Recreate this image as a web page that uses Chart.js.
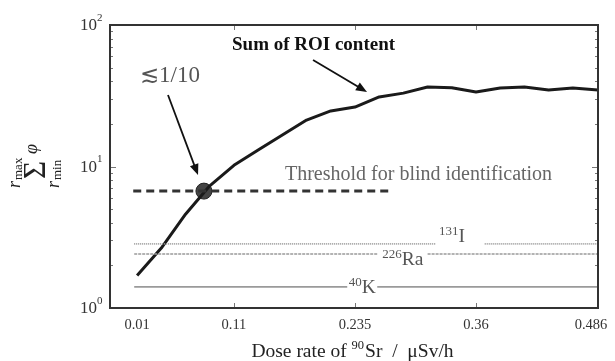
<!DOCTYPE html>
<html>
<head>
<meta charset="utf-8">
<script src="https://cdn.jsdelivr.net/npm/chart.js@4"></script>
<style>
    body { margin: 0; background: #fff; }
    #box { position: relative; width: 615px; height: 361px; }
</style>
</head>
<body>
<div id="box"><canvas id="chart"></canvas></div>
<script>
// dose rate of 90Sr (uSv/h) and the summed ROI content
var doseRate = [0.01, 0.035, 0.06, 0.085, 0.11, 0.135, 0.16, 0.185, 0.21, 0.235,
    0.26, 0.285, 0.31, 0.335, 0.36, 0.385, 0.41, 0.435, 0.46, 0.486];
var roiSum = [1.7, 2.65, 4.6, 7.3, 10.2, 13.1, 16.7, 21.3, 24.7, 26.3,
    31.0, 33.0, 36.5, 36.0, 33.6, 35.9, 36.5, 34.7, 35.9, 34.7];

var xTickValues = [0.01, 0.11, 0.235, 0.36, 0.486];
var xTickLabels = ['0.01', '0.11', '0.235', '0.36', '0.486'];
var yTickValues = [1, 10, 100];
var yTickExps = ['0', '1', '2'];

// threshold for blind identification
var thresholdValue = 6.7;
var thresholdRange = [0.006, 0.271];
var crossPoint = {x: 0.079, y: 6.7};

// background nuclides (mass number, symbol, level, gap where the label sits)
var refMass = ['131', '226', '40'];
var refSymbol = ['I', 'Ra', 'K'];
var refLevel = [2.84, 2.41, 1.41];
var refGapFrom = [0.318, 0.259, 0.227];
var refGapTo = [0.369, 0.310, 0.258];
var refStart = 0.007;
var refEnd = 0.486;

var serif = "'Liberation Serif', 'DejaVu Serif', serif";

function refData(i) {
    return [
        {x: refStart, y: refLevel[i]},
        {x: refGapFrom[i], y: refLevel[i]},
        {x: (refGapFrom[i] + refGapTo[i]) / 2, y: null},
        {x: refGapTo[i], y: refLevel[i]},
        {x: refEnd, y: refLevel[i]}
    ];
}

function arrow(ctx, x1, y1, x2, y2) {
    var a = Math.atan2(y2 - y1, x2 - x1);
    var L = 11, W = 4.5;
    ctx.beginPath();
    ctx.moveTo(x1, y1);
    ctx.lineTo(x2 - Math.cos(a) * L * 0.8, y2 - Math.sin(a) * L * 0.8);
    ctx.stroke();
    ctx.beginPath();
    ctx.moveTo(x2, y2);
    ctx.lineTo(x2 - Math.cos(a) * L - Math.sin(a) * W, y2 - Math.sin(a) * L + Math.cos(a) * W);
    ctx.lineTo(x2 - Math.cos(a) * L + Math.sin(a) * W, y2 - Math.sin(a) * L - Math.cos(a) * W);
    ctx.closePath();
    ctx.fill();
}

// text with a superscript part in front, e.g. 40K
function supText(ctx, pre, main, x, y, size, align) {
    ctx.font = Math.round(size * 0.66) + 'px ' + serif;
    var w1 = ctx.measureText(pre).width;
    ctx.font = size + 'px ' + serif;
    var w2 = ctx.measureText(main).width;
    var x0 = align == 'center' ? x - (w1 + w2) / 2 : x;
    ctx.textAlign = 'left';
    ctx.textBaseline = 'alphabetic';
    ctx.font = Math.round(size * 0.66) + 'px ' + serif;
    ctx.fillText(pre, x0, y - size * 0.36);
    ctx.font = size + 'px ' + serif;
    ctx.fillText(main, x0 + w1, y);
}

var decorPlugin = {
    id: 'decor',
    afterDraw: function(chart) {
        var ctx = chart.ctx;
        var xs = chart.scales.x, ys = chart.scales.y;
        var ca = chart.chartArea;
        ctx.save();

        // inner tick marks
        ctx.strokeStyle = '#777';
        ctx.lineWidth = 1;
        for (var i = 1; i < xTickValues.length - 1; i++) {
            var px = Math.round(xs.getPixelForValue(xTickValues[i])) + 0.5;
            ctx.beginPath();
            ctx.moveTo(px, ca.bottom); ctx.lineTo(px, ca.bottom - 5);
            ctx.moveTo(px, ca.top); ctx.lineTo(px, ca.top + 5);
            ctx.stroke();
        }
        for (var d = 1; d < 100; d *= 10) {
            for (var m = 2; m <= 9; m++) {
                var py = Math.round(ys.getPixelForValue(d * m)) + 0.5;
                ctx.beginPath();
                ctx.moveTo(ca.left, py); ctx.lineTo(ca.left + 3, py);
                ctx.moveTo(ca.right, py); ctx.lineTo(ca.right - 3, py);
                ctx.stroke();
            }
        }
        var p10 = Math.round(ys.getPixelForValue(10)) + 0.5;
        ctx.beginPath();
        ctx.moveTo(ca.left, p10); ctx.lineTo(ca.left + 6, p10);
        ctx.moveTo(ca.right, p10); ctx.lineTo(ca.right - 6, p10);
        ctx.stroke();

        // frame
        ctx.strokeStyle = '#333';
        ctx.lineWidth = 2;
        ctx.strokeRect(ca.left, ca.top, ca.right - ca.left, ca.bottom - ca.top);

        // x tick labels
        ctx.fillStyle = '#333';
        ctx.font = '14.5px ' + serif;
        ctx.textAlign = 'center';
        ctx.textBaseline = 'middle';
        for (var i = 0; i < xTickValues.length; i++) {
            var lx = xs.getPixelForValue(xTickValues[i]);
            if (i == xTickValues.length - 1) lx -= 7;
            ctx.fillText(xTickLabels[i], lx, ca.bottom + 17);
        }

        // y tick labels 10^n
        for (var i = 0; i < yTickValues.length; i++) {
            var ly = ys.getPixelForValue(yTickValues[i]);
            ctx.font = '17px ' + serif;
            ctx.textAlign = 'right';
            ctx.textBaseline = 'middle';
            ctx.fillText('10', ca.left - 13, ly + 1);
            ctx.font = '11px ' + serif;
            ctx.textAlign = 'left';
            ctx.fillText(yTickExps[i], ca.left - 13, ly - 7);
        }

        // x title
        ctx.fillStyle = '#222';
        var t1 = 'Dose rate of ', t2 = '90', t3 = 'Sr  /  \u03bcSv/h';
        ctx.font = '19.5px ' + serif;
        var w1 = ctx.measureText(t1).width, w3 = ctx.measureText(t3).width;
        ctx.font = '12.5px ' + serif;
        var w2 = ctx.measureText(t2).width;
        var tx = (ca.left + ca.right) / 2 - (w1 + w2 + w3) / 2 - 2;
        ctx.textAlign = 'left';
        ctx.textBaseline = 'alphabetic';
        ctx.font = '19.5px ' + serif;
        ctx.fillText(t1, tx, 357);
        ctx.font = '12.5px ' + serif;
        ctx.fillText(t2, tx + w1, 349);
        ctx.font = '19.5px ' + serif;
        ctx.fillText(t3, tx + w1 + w2 + 1, 357);

        // y title: sum over r_min..r_max of phi, rotated
        ctx.save();
        ctx.translate(35, 167);
        ctx.rotate(-Math.PI / 2);
        ctx.fillStyle = '#222';
        ctx.textAlign = 'center';
        ctx.textBaseline = 'alphabetic';
        ctx.font = '31px ' + serif;
        ctx.fillText('\u03a3', -3, 10);
        ctx.textAlign = 'left';
        ctx.font = 'italic 18px ' + serif;
        ctx.fillText('\u03c6', 13, 2);
        ctx.fillText('r', -21, -15);
        ctx.fillText('r', -21, 24);
        ctx.font = '13px ' + serif;
        ctx.fillText('max', -13, -13);
        ctx.fillText('min', -13, 26);
        ctx.restore();

        // nuclide labels
        ctx.fillStyle = '#555';
        var off = [-2, 11, 6];
        for (var i = 0; i < refMass.length; i++) {
            var cx = xs.getPixelForValue((refGapFrom[i] + refGapTo[i]) / 2);
            var cy = ys.getPixelForValue(refLevel[i]);
            if (i == 0) cx -= 8;
            supText(ctx, refMass[i], refSymbol[i], cx, cy + off[i], 19.5, 'center');
        }

        // annotations
        ctx.fillStyle = '#111';
        ctx.font = 'bold 19px ' + serif;
        ctx.textAlign = 'left';
        ctx.textBaseline = 'middle';
        ctx.fillText('Sum of ROI content', xs.getPixelForValue(0.108), ys.getPixelForValue(72));
        ctx.strokeStyle = '#111';
        ctx.lineWidth = 1.8;
        arrow(ctx, xs.getPixelForValue(0.1917), ys.getPixelForValue(56.6),
            xs.getPixelForValue(0.2474), ys.getPixelForValue(33.6));

        ctx.fillStyle = '#555';
        ctx.font = '23px ' + serif;
        ctx.textAlign = 'center';
        ctx.fillText('\u22721/10', xs.getPixelForValue(0.044), ys.getPixelForValue(43.6));
        ctx.fillStyle = '#111';
        arrow(ctx, xs.getPixelForValue(0.0419), ys.getPixelForValue(32),
            xs.getPixelForValue(0.0729), ys.getPixelForValue(8.7));

        ctx.fillStyle = '#666';
        ctx.font = '20px ' + serif;
        ctx.textAlign = 'left';
        ctx.fillText('Threshold for blind identification', xs.getPixelForValue(0.1627), ys.getPixelForValue(8.7));

        ctx.restore();
    }
};

var datasets = [];
var refStyles = [
    {borderColor: '#9a9a9a', borderDash: [1, 1], borderWidth: 1.6},
    {borderColor: '#9a9a9a', borderDash: [3, 1], borderWidth: 1.6},
    {borderColor: '#9a9a9a', borderDash: [], borderWidth: 1.6}
];
for (var i = 0; i < refLevel.length; i++) {
    datasets.push({
        data: refData(i),
        borderColor: refStyles[i].borderColor,
        borderDash: refStyles[i].borderDash,
        borderWidth: refStyles[i].borderWidth,
        pointRadius: 0,
        spanGaps: false,
        fill: false
    });
}
datasets.push({
    data: thresholdRange.map(function(v) { return {x: v, y: thresholdValue}; }),
    borderColor: '#333',
    borderDash: [8, 5],
    borderWidth: 3,
    pointRadius: 0,
    fill: false
});
datasets.push({
    data: doseRate.map(function(v, i) { return {x: v, y: roiSum[i]}; }),
    borderColor: '#1a1a1a',
    borderWidth: 3,
    borderJoinStyle: 'round',
    pointRadius: 0,
    tension: 0,
    fill: false
});
datasets.push({
    type: 'scatter',
    data: [crossPoint],
    pointRadius: 8,
    backgroundColor: '#444',
    borderColor: '#222',
    borderWidth: 1
});

var chart = new Chart(document.getElementById('chart'), {
    type: 'line',
    data: {datasets: datasets},
    options: {
        responsive: true,
        maintainAspectRatio: false,
        animation: false,
        layout: {padding: {left: 110, right: 17, top: 25, bottom: 53}},
        plugins: {legend: {display: false}, tooltip: {enabled: false}},
        scales: {
            x: {type: 'linear', min: -0.018, max: 0.486, display: false},
            y: {type: 'logarithmic', min: 1, max: 100, display: false}
        }
    },
    plugins: [decorPlugin]
});
</script>
</body>
</html>
